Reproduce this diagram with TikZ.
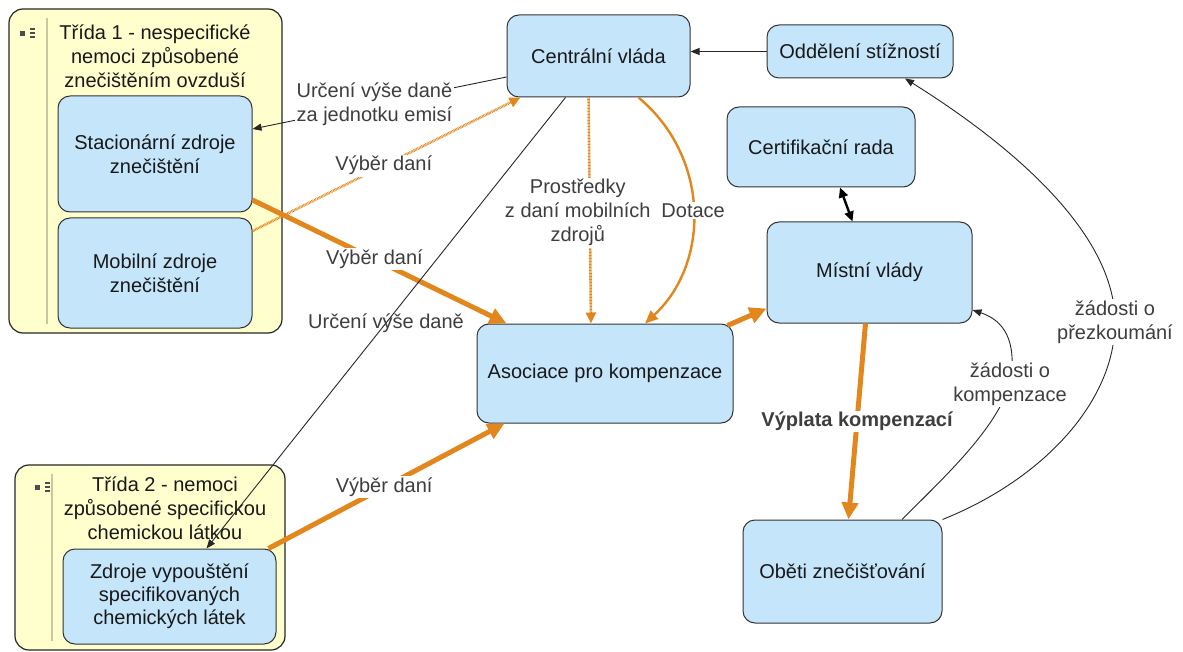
\documentclass[tikz,border=0pt]{standalone}
\usepackage{fontspec}
\setmainfont{Liberation Sans}
\usetikzlibrary{arrows.meta}
\definecolor{boxfill}{RGB}{197,229,251}
\definecolor{grpfill}{RGB}{255,255,206}
\definecolor{orng}{RGB}{225,135,30}
\definecolor{lbl}{RGB}{62,62,62}
\definecolor{sepline}{RGB}{200,200,160}
\begin{document}
\begin{tikzpicture}[x=1pt,y=-1pt,font=\fontsize{20}{24}\selectfont,
  box/.style={draw=black!80,fill=boxfill,rounded corners=12pt,line width=1pt,align=center,inner sep=0pt,text=black!90},
  grp/.style={draw=black!85,fill=grpfill,rounded corners=14pt,line width=1.2pt,inner sep=0pt},
  lab/.style={text=lbl,align=center,inner sep=1.5pt},
  wlab/.style={lab,fill=white},
  thickor/.style={draw=orng,line width=5pt,-{Triangle[length=17pt,width=16pt]}},
  dotor/.style={draw=orng,line width=2.6pt,dash pattern=on 0.8pt off 0.7pt,-{Triangle[length=11pt,width=10pt]}},
  medor/.style={draw=orng,line width=2.4pt,-{Triangle[length=13pt,width=11pt]}},
  thinln/.style={draw=black!85,line width=0.9pt,-{Triangle[length=9pt,width=7pt]}},
  icon/.style={fill=black!70}]
\useasboundingbox (0,0) rectangle (1183,652);

% groups
\node[grp,minimum width=273pt,minimum height=324pt] (g1) at (145.5,171) {};
\node[grp,minimum width=270pt,minimum height=185pt] (g2) at (150,557.5) {};
\draw[sepline,line width=1.2pt] (47,18) -- (47,324);
\draw[sepline,line width=1.2pt] (52,474) -- (52,641);
\fill[icon] (19.5,31) rectangle (24.5,36);
\fill[icon] (30,28) rectangle (34.5,29.6);
\fill[icon] (30,32) rectangle (34.5,33.6);
\fill[icon] (30,36) rectangle (34.5,37.6);
\fill[icon] (34.5,485) rectangle (39.5,490);
\fill[icon] (45,482) rectangle (49.5,483.6);
\fill[icon] (45,486) rectangle (49.5,487.6);
\fill[icon] (45,490) rectangle (49.5,491.6);
\node[align=center,text=black!90] (t1) at (155,56) {Třída 1 - nespecifické\\nemoci způsobené\\znečištěním ovzduší};
\node[align=center,text=black!90] (t2) at (165,508) {Třída 2 - nemoci\\způsobené specifickou\\chemickou látkou};

% boxes
\node[box,minimum width=194pt,minimum height=116pt] (stac) at (155,154) {Stacionární zdroje\\znečištění};
\node[box,minimum width=194pt,minimum height=110pt] (mob) at (155,273) {Mobilní zdroje\\znečištění};
\node[box,minimum width=213pt,minimum height=95pt,font=\fontsize{20}{23}\selectfont] (zdr) at (169.5,596.5) {Zdroje vypouštění\\specifikovaných\\chemických látek};
\node[box,minimum width=183pt,minimum height=82pt] (cen) at (598.5,56) {Centrální vláda};
\node[box,minimum width=186pt,minimum height=53pt] (odd) at (860,51.5) {Oddělení stížností};
\node[box,minimum width=188pt,minimum height=80pt] (cert) at (821,147) {Certifikační rada};
\node[box,minimum width=205pt,minimum height=101pt] (mis) at (869.5,272.5) {Místní vlády};
\node[box,minimum width=256pt,minimum height=99pt] (aso) at (605,373.5) {Asociace pro kompenzace};
\node[box,minimum width=199pt,minimum height=103pt] (obe) at (842.5,571.5) {Oběti znečišťování};

% connectors
\draw[thinln] ([yshift=-21pt]cen.west) -- node[wlab,pos=0.52] {Určení výše daně\\za jednotku emisí} ([yshift=25pt]stac.east);
\draw[dotor] ([yshift=42pt]mob.east) -- node[wlab,pos=0.49] {Výběr daní} ([xshift=14pt]cen.south west);
\draw[thickor] ([yshift=-46pt]stac.east) -- node[wlab,pos=0.48] {Výběr daní} ([xshift=30pt]aso.north west);
\draw[thinln] ([xshift=-33pt]cen.south) -- node[lab,pos=0.5] {Určení výše daně} ([xshift=37pt]zdr.north);
\draw[dotor] ([xshift=-10pt]cen.south) -- node[wlab,pos=0.51,xshift=-12pt] {Prostředky\\z daní mobilních\\zdrojů} ([xshift=-14pt]aso.north);
\draw[medor] ([xshift=40pt]cen.south) .. controls +(72,60) and +(65,-60) .. node[wlab,pos=0.5] {Dotace} ([xshift=40pt]aso.north);
\draw[thinln] (odd.west) -- (odd.west -| cen.east);
\draw[draw=black,line width=2.4pt,{Triangle[length=10pt,width=9pt]}-{Triangle[length=10pt,width=9pt]}] ([xshift=19pt]cert.south) -- ([xshift=-17pt]mis.north);
\draw[thickor] ([xshift=-6pt,yshift=-2pt]aso.north east) -- ([yshift=-36pt]mis.west);
\draw[thickor] ([xshift=-4pt]mis.south) -- node[wlab,pos=0.5,font=\fontsize{20}{24}\selectfont\bfseries] {Výplata kompenzací} ([xshift=6pt]obe.north);
\draw[thickor] ([xshift=-8pt]zdr.north east) -- node[wlab,pos=0.49] {Výběr daní} ([xshift=28pt]aso.south west);

\coordinate (kc) at (1010,384);
\coordinate (pc) at (1115,322);
\draw[thinln] ([xshift=59.5pt]obe.north) .. controls +(45,-45) and +(-15,46) .. (kc) .. controls +(8,-45) and +(30,10) .. ([yshift=-37.5pt]mis.east);
\draw[thinln] (obe.north east) .. controls +(100,-40) and +(0,80) .. (pc) .. controls +(0,-100) and +(80,50) .. ([xshift=45pt]odd.south);
\node[wlab] (lk) at (kc) {žádosti o\\kompenzace};
\node[wlab] (lp) at (pc) {žádosti o\\přezkoumání};
\end{tikzpicture}
\end{document}
